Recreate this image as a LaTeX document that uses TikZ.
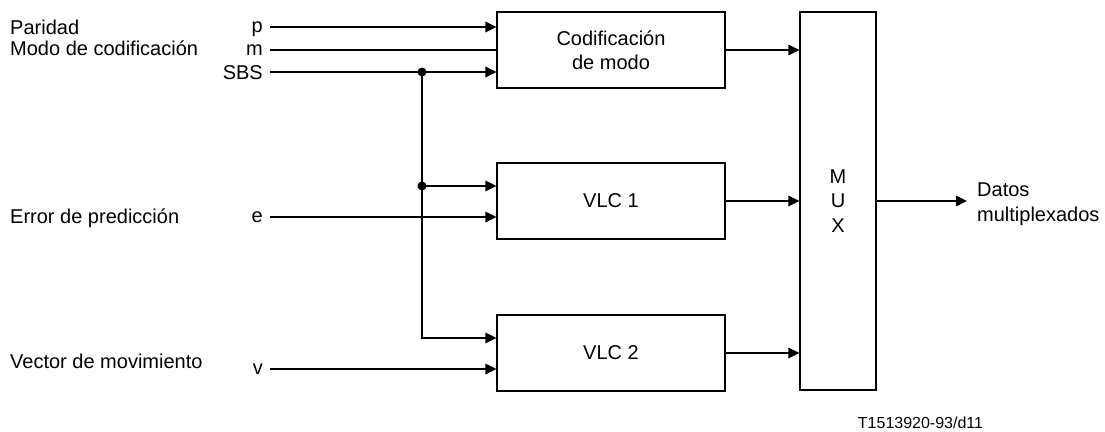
\documentclass[tikz,border=0pt]{standalone}
\usepackage{fontspec}
\setmainfont{Liberation Sans}
\usetikzlibrary{arrows.meta}
\begin{document}
\begin{tikzpicture}[x=1pt,y=-1pt,
  lbl/.style={font=\fontsize{20}{24}\selectfont, inner sep=0pt},
  tag/.style={lbl, inner xsep=7pt, anchor=base east},
  blk/.style={draw, line width=1.1pt, inner sep=0pt, align=center,
              font=\fontsize{20}{24}\selectfont},
  wire/.style={line width=1.1pt},
  sig/.style={wire, -{Triangle[length=11pt,width=10.5pt]}},
  jdot/.style={circle, fill, inner sep=0pt, minimum size=9pt}]
\useasboundingbox (0,0) rectangle (1105,431);

% processing blocks
\node[blk, minimum width=228pt, minimum height=76pt] (cod)  at (611,50)  {Codificación\\de modo};
\node[blk, minimum width=228pt, minimum height=76pt] (vlc1) at (611,201) {VLC 1};
\node[blk, minimum width=228pt, minimum height=76pt] (vlc2) at (611,353) {VLC 2};
\node[blk, minimum width=76pt, minimum height=378pt,
      font=\fontsize{20}{24.5}\selectfont] (mux) at (838,201) {M\\U\\X};

% input descriptions
\node[lbl, anchor=base west] (dp) at (10,34)  {Paridad};
\node[lbl, anchor=base west] (dm) at (10,55)  {Modo de codificación};
\node[lbl, anchor=base west] (de) at (10,223) {Error de predicción};
\node[lbl, anchor=base west] (dv) at (10,368) {Vector de movimiento};

% line start points and signal names
\coordinate (ip) at (270,27);
\coordinate (im) at (270,50);
\coordinate (is) at (270,72);
\coordinate (ie) at (270,217);
\coordinate (iv) at (270,369);
\node[tag] (tp) at ([yshift=-5.2pt]ip) {p};
\node[tag] (tm) at ([yshift=-5.2pt]im) {m};
\node[tag] (ts) at ([yshift=-7pt]is)   {SBS};
\node[tag] (te) at ([yshift=-5.2pt]ie) {e};
\node[tag] (tv) at ([yshift=-5.2pt]iv) {v};

% input lines
\draw[sig]  (ip) -- (cod.west |- ip);
\draw[wire] (im) -- (cod.west |- im);
\draw[sig]  (is) -- (cod.west |- is);
\draw[sig]  (ie) -- (vlc1.west |- ie);
\draw[sig]  (iv) -- (vlc2.west |- iv);

% SBS distribution to the VLC coders
\coordinate (j1) at (422,72);
\coordinate (j2) at (422,186);
\coordinate (k2) at (422,338);
\draw[wire] (j1) -- (j2);
\draw[sig]  (j2) -- (vlc1.west |- j2);
\draw[sig]  (j2) -- (k2) -- (vlc2.west |- k2);
\node[jdot] (d1) at (j1) {};
\node[jdot] (d2) at (j2) {};

% into the multiplexer
\draw[sig] (cod.east)  -- (mux.west |- cod.east);
\draw[sig] (vlc1.east) -- (mux.west |- vlc1.east);
\draw[sig] (vlc2.east) -- (mux.west |- vlc2.east);

% output
\coordinate (out) at (967,201);
\draw[sig] (mux.east) -- (out);
\node[lbl, anchor=west, align=left, font=\fontsize{20}{25}\selectfont] (dat) at (977,204) {Datos\\multiplexados};

% figure reference
\node[inner sep=0pt, anchor=base, font=\fontsize{16}{19}\selectfont] (ref) at (920.5,428) {T1513920-93/d11};
\end{tikzpicture}
\end{document}
